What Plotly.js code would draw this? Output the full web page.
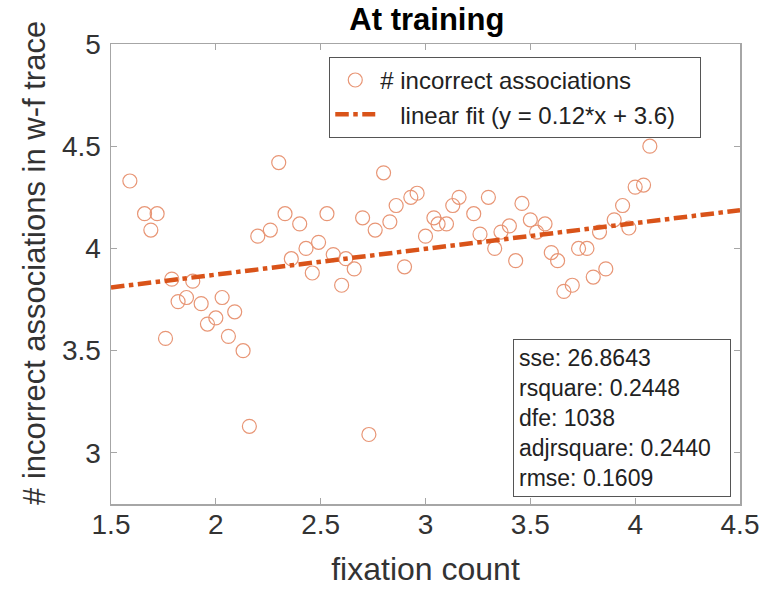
<!DOCTYPE html>
<html>
<head>
<meta charset="utf-8">
<script src="https://cdn.plot.ly/plotly-3.0.1.min.js"></script>
<style>html,body{margin:0;padding:0;background:#fff;}#chart{width:765px;height:590px;}</style>
</head>
<body>
<div id="chart"></div>
<script>
const fixationCount = [1.59,1.66,1.72,1.69,1.79,1.82,1.86,1.89,1.93,2.03,2.09,2.00,1.96,1.76,2.06,2.13,2.16,2.73,
  2.30,2.33,2.40,2.20,2.26,2.43,2.36,2.46,2.49,2.80,2.53,2.70,2.76,2.83,2.86,2.93,2.96,2.56,2.62,2.66,2.60,2.90,
  3.00,3.04,3.06,3.10,3.13,3.16,3.23,3.26,3.30,3.33,3.36,3.40,3.43,3.46,3.50,3.53,3.57,3.60,3.63,3.66,3.70,3.73,
  3.77,3.80,3.83,3.86,3.90,3.94,3.97,4.00,4.04,4.07];
const incorrectAssoc = [4.33,4.17,4.17,4.09,3.85,3.74,3.76,3.84,3.73,3.76,3.69,3.66,3.63,3.56,3.57,3.50,3.13,3.09,
  4.42,4.17,4.12,4.06,4.09,4.00,3.95,3.88,4.03,4.37,4.17,4.15,4.09,4.13,4.21,4.25,4.27,3.97,3.95,3.90,3.82,3.91,
  4.06,4.15,4.12,4.12,4.21,4.25,4.17,4.07,4.25,4.00,4.08,4.11,3.94,4.22,4.14,4.08,4.12,3.98,3.94,3.79,3.82,4.00,
  4.00,3.86,4.08,3.90,4.14,4.21,4.10,4.30,4.31,4.50];
const fitSlope = 0.126;
const fitIntercept = 3.62;
const fitRange = [1.5, 4.5];
const statsLines = ["sse: 26.8643","rsquare: 0.2448","dfe: 1038","adjrsquare: 0.2440","rmse: 0.1609"];
const xTicks = [1.5,2,2.5,3,3.5,4,4.5];
const yTicks = [3,3.5,4,4.5,5];

const fitY = fitRange.map(x => fitSlope*x + fitIntercept);
const font = "Liberation Sans, Arial, sans-serif";
const axisCol = "#a6a6a6";

const traces = [
  {x: fixationCount, y: incorrectAssoc, mode: "markers", type: "scatter",
   name: "# incorrect associations",
   marker: {symbol: "circle-open", size: 14, color: "rgb(232,150,118)", line: {width: 1.2}}},
  {x: fitRange, y: fitY, mode: "lines", type: "scatter",
   name: "\u00a0\u00a0\u00a0linear fit (y = 0.12*x + 3.6)\u00a0\u00a0\u00a0",
   line: {color: "#D95319", width: 4.5, dash: "dashdot"}}
];

const layout = {
  width: 765, height: 590,
  margin: {l: 111, r: 25, t: 44, b: 86},
  paper_bgcolor: "#fff", plot_bgcolor: "#fff",
  font: {family: font, color: "#333"},
  title: {text: "<b>At training</b>", font: {size: 31, color: "#000", family: font},
          x: 0.558, xanchor: "center", xref: "container", y: 0.968, yref: "container", yanchor: "middle"},
  xaxis: {range: [1.5, 4.5], tickvals: xTicks, ticktext: xTicks.map(String), ticks: "inside", ticklen: 6,
          tickcolor: axisCol, showline: true, linecolor: axisCol, linewidth: 1.5, mirror: "ticks",
          showgrid: false, zeroline: false, tickfont: {size: 28, color: "#333"}, ticklabelstandoff: -5,
          title: {text: "fixation count", font: {size: 32, color: "#333"}, standoff: 18}},
  yaxis: {range: [2.75, 5], tickvals: yTicks, ticktext: yTicks.map(String), ticks: "inside", ticklen: 6,
          tickcolor: axisCol, showline: true, linecolor: axisCol, linewidth: 1.5, mirror: "ticks",
          showgrid: false, zeroline: false, tickfont: {size: 28, color: "#333"}, ticklabelstandoff: 3},
  legend: {x: 0.347, y: 0.972, xanchor: "left", yanchor: "top", bgcolor: "#fff",
           bordercolor: "#555", borderwidth: 1, font: {size: 24, color: "#222"},
           tracegroupgap: 0, itemwidth: 40},
  annotations: [
    {xref: "paper", yref: "paper", x: 0.639, y: 0.015, xanchor: "left", yanchor: "bottom",
     text: statsLines.join("<br>"), align: "left", showarrow: false,
     font: {size: 23, color: "#222", family: font}, bordercolor: "#555", borderwidth: 1,
     borderpad: 5, bgcolor: "#fff", width: 206},
    {xref: "paper", yref: "paper", x: 0, y: 0.524, xanchor: "center", yanchor: "middle", xshift: -76,
     text: "# incorrect associations in w-f trace", textangle: -90, showarrow: false,
     font: {size: 31, color: "#333", family: font}}
  ],
  showlegend: true
};

Plotly.newPlot("chart", traces, layout, {displayModeBar: false, staticPlot: true});
</script>
</body>
</html>
